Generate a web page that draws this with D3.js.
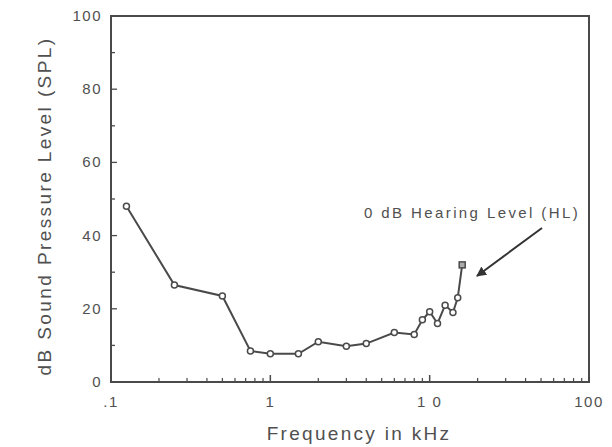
<!DOCTYPE html>
<html>
<head>
<meta charset="utf-8">
<script src="https://cdn.jsdelivr.net/npm/d3@7"></script>
<style>
  html, body { margin: 0; padding: 0; background: #fff; }
  svg { display: block; }
  text { font-family: "Liberation Sans", Arial, sans-serif; fill: #505050; }
</style>
</head>
<body>
<svg id="chart" width="612" height="447"></svg>
<script>
// Data (frequency in kHz, threshold in dB SPL)
const freqs = [0.125, 0.25, 0.5, 0.75, 1, 1.5, 2, 3, 4, 6, 8, 9, 10, 11.2, 12.5, 14, 15, 16];
const levels = [48, 26.5, 23.5, 8.5, 7.7, 7.7, 11, 9.8, 10.5, 13.5, 13, 17, 19.2, 16, 21, 19, 23, 32];
const xTickValues = [0.1, 1, 10, 100];
const xTickLabels = [".1", "1", "1 0", "100"];
const yTickValues = [0, 20, 40, 60, 80, 100];
const annotation = "0 dB Hearing Level (HL)";
const xTitle = "Frequency in kHz";
const yTitle = "dB Sound Pressure Level (SPL)";

const svg = d3.select("#chart");
const m = { left: 111, right: 589, top: 16, bottom: 382 };
const ink = "#4a4a4a";

const x = d3.scaleLog().domain([0.1, 100]).range([m.left, m.right]);
const y = d3.scaleLinear().domain([0, 100]).range([m.bottom, m.top]);

// frame
svg.append("rect")
  .attr("x", m.left).attr("y", m.top)
  .attr("width", m.right - m.left).attr("height", m.bottom - m.top)
  .attr("fill", "none").attr("stroke", ink).attr("stroke-width", 2);

// x minor/major ticks (inward)
const xMinor = [];
[0.1, 1, 10].forEach(d => { for (let k = 2; k <= 9; k++) xMinor.push(d * k); });
svg.append("g").selectAll("line").data(xMinor).join("line")
  .attr("x1", d => x(d)).attr("x2", d => x(d))
  .attr("y1", m.bottom).attr("y2", m.bottom - 4)
  .attr("stroke", ink).attr("stroke-width", 1.2);
svg.append("g").selectAll("line").data(xTickValues).join("line")
  .attr("x1", d => x(d)).attr("x2", d => x(d))
  .attr("y1", m.bottom).attr("y2", m.bottom - 7)
  .attr("stroke", ink).attr("stroke-width", 1.5);

// y ticks (inward)
const yAll = d3.range(0, 101, 10);
svg.append("g").selectAll("line").data(yAll).join("line")
  .attr("x1", m.left).attr("x2", d => m.left + (d % 20 === 0 ? 6 : 4))
  .attr("y1", d => y(d)).attr("y2", d => y(d))
  .attr("stroke", ink).attr("stroke-width", 1.3);

// tick labels
svg.append("g").selectAll("text").data(yTickValues).join("text")
  .attr("x", m.left - 9).attr("y", d => y(d) + 5)
  .attr("text-anchor", "end")
  .style("font-size", "15px").style("letter-spacing", "1.5px")
  .text(d => d);
svg.append("g").selectAll("text").data(xTickValues).join("text")
  .attr("x", d => x(d)).attr("y", 407)
  .attr("text-anchor", "middle")
  .style("font-size", "15px").style("letter-spacing", "1.5px")
  .text((d, i) => xTickLabels[i]);

// axis titles
svg.append("text")
  .attr("x", 359).attr("y", 440)
  .attr("text-anchor", "middle")
  .style("font-size", "19px").style("letter-spacing", "2.3px")
  .text(xTitle);
svg.append("text")
  .attr("transform", `translate(51, ${(m.top + m.bottom) / 2 + 7}) rotate(-90)`)
  .attr("text-anchor", "middle")
  .style("font-size", "19px").style("letter-spacing", "2.4px")
  .text(yTitle);

// data line
const pts = freqs.map((f, i) => [f, levels[i]]);
svg.append("path")
  .datum(pts)
  .attr("fill", "none").attr("stroke", ink).attr("stroke-width", 2)
  .attr("d", d3.line().x(d => x(d[0])).y(d => y(d[1])));

// markers: circles, last one square
svg.append("g").selectAll("circle").data(pts.slice(0, -1)).join("circle")
  .attr("cx", d => x(d[0])).attr("cy", d => y(d[1])).attr("r", 3)
  .attr("fill", "#fff").attr("stroke", ink).attr("stroke-width", 1.5);
const last = pts[pts.length - 1];
svg.append("rect")
  .attr("x", x(last[0]) - 3).attr("y", y(last[1]) - 3)
  .attr("width", 6).attr("height", 6)
  .attr("fill", "#aaa").attr("stroke", ink).attr("stroke-width", 1.5);

// annotation
svg.append("text")
  .attr("x", 364).attr("y", 218)
  .style("font-size", "15px").style("letter-spacing", "2.4px")
  .text(annotation);

svg.append("defs").append("marker")
  .attr("id", "ah").attr("viewBox", "0 0 10 10")
  .attr("refX", 9).attr("refY", 5)
  .attr("markerWidth", 5).attr("markerHeight", 5)
  .attr("orient", "auto")
  .append("path").attr("d", "M0,0 L10,5 L0,10 z").attr("fill", "#333");
svg.append("line")
  .attr("x1", 542).attr("y1", 228).attr("x2", 477).attr("y2", 276)
  .attr("stroke", "#333").attr("stroke-width", 2)
  .attr("marker-end", "url(#ah)");
</script>
</body>
</html>
